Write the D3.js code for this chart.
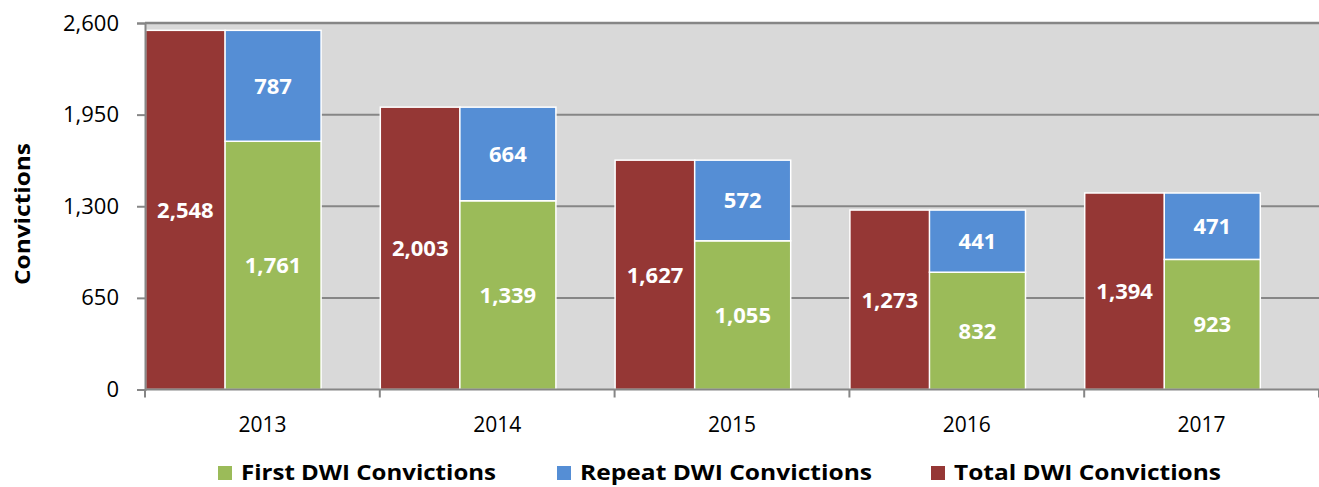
<!DOCTYPE html>
<html><head><meta charset="utf-8">
<script src="https://cdn.jsdelivr.net/npm/d3@7"></script>
<style>body{margin:0;background:#fff}svg{display:block}</style>
</head><body>
<svg id="c" width="1319" height="487"></svg>
<script>
const years = ["2013","2014","2015","2016","2017"];
const firstDWI = [1761,1339,1055,832,923];
const repeatDWI = [787,664,572,441,471];
const totalDWI = [2548,2003,1627,1273,1394];
const yTicks = [0,650,1300,1950,2600];
const seriesNames = ["First DWI Convictions","Repeat DWI Convictions","Total DWI Convictions"];
const colors = {first:"#9bbb59", repeat:"#558ed5", total:"#953735"};

const FONT = "'Open Sans', 'Liberation Sans', sans-serif";
const svg = d3.select("#c");
const L=145, R=1319, T=23, B=389.5;
const x = d3.scaleBand().domain(years).range([L,R]).padding(0);
const y = d3.scaleLinear().domain([0,2600]).range([B,T]);
const bw = x.bandwidth();

svg.append("rect").attr("x",L).attr("y",T).attr("width",R-L).attr("height",B-T).attr("fill","#d9d9d9");

// gridlines
svg.append("g").selectAll("line").data(yTicks.filter(d=>d>0)).join("line")
  .attr("x1",L).attr("x2",R).attr("y1",d=>y(d)).attr("y2",d=>y(d))
  .attr("stroke","#868686").attr("stroke-width",d=>d===2600?2.5:2);

// total bars
const g = svg.append("g");
g.selectAll("rect.t").data(years).join("rect")
  .attr("x",d=>x(d)+0.5).attr("width",bw*0.34)
  .attr("y",(d,i)=>y(totalDWI[i])).attr("height",(d,i)=>y(0)-y(totalDWI[i]))
  .attr("fill",colors.total).attr("stroke","#fff").attr("stroke-width",1.5);
// stacked: first
g.selectAll("rect.f").data(years).join("rect")
  .attr("x",d=>x(d)+bw*0.341).attr("width",bw*0.409)
  .attr("y",(d,i)=>y(firstDWI[i])).attr("height",(d,i)=>y(0)-y(firstDWI[i]))
  .attr("fill",colors.first).attr("stroke","#fff").attr("stroke-width",1.5);
// stacked: repeat
g.selectAll("rect.r").data(years).join("rect")
  .attr("x",d=>x(d)+bw*0.341).attr("width",bw*0.409)
  .attr("y",(d,i)=>y(firstDWI[i]+repeatDWI[i])).attr("height",(d,i)=>y(firstDWI[i])-y(firstDWI[i]+repeatDWI[i]))
  .attr("fill",colors.repeat).attr("stroke","#fff").attr("stroke-width",1.5);

const fmt = d3.format(",");
function lab(cx, cy, v){
  svg.append("text").attr("x",cx).attr("y",cy).attr("text-anchor","middle").attr("dy","0.36em")
    .attr("font-family",FONT).attr("font-weight","bold").attr("font-size",22).attr("fill","#fff").text(fmt(v));
}
years.forEach((yr,i)=>{
  lab(x(yr)+bw*0.17+0.5, (y(totalDWI[i])+y(0))/2, totalDWI[i]);
  const sx = x(yr)+bw*0.341+bw*0.2045;
  lab(sx, (y(firstDWI[i])+y(0))/2, firstDWI[i]);
  lab(sx, (y(firstDWI[i])+y(firstDWI[i]+repeatDWI[i]))/2, repeatDWI[i]);
});

// axes
const ya = svg.append("g").attr("transform",`translate(${L},0)`)
  .call(d3.axisLeft(y).tickValues(yTicks).tickFormat(fmt).tickSize(8).tickPadding(18));
ya.select(".domain").attr("stroke","#868686").attr("stroke-width",2);
ya.selectAll(".tick line").attr("stroke","#868686").attr("stroke-width",2);
ya.selectAll("text").attr("font-family",FONT).attr("font-size",22).attr("fill","#000");

const xa = svg.append("g").attr("transform",`translate(0,${B})`);
xa.append("line").attr("x1",L).attr("x2",R).attr("stroke","#868686").attr("stroke-width",2);
xa.selectAll("line.tk").data(d3.range(years.length+1)).join("line")
  .attr("x1",i=>L+i*bw).attr("x2",i=>L+i*bw).attr("y1",0).attr("y2",8)
  .attr("stroke","#868686").attr("stroke-width",2);
xa.selectAll("text").data(years).join("text")
  .attr("x",d=>x(d)+bw/2).attr("y",42).attr("text-anchor","middle")
  .attr("font-family",FONT).attr("font-size",21).attr("fill","#000").text(d=>d);

// y title
svg.append("text").attr("transform","translate(30,214) rotate(-90)").attr("text-anchor","middle")
  .attr("font-family",FONT).attr("font-weight","bold").attr("font-size",22).attr("fill","#000")
  .attr("textLength",142).attr("lengthAdjust","spacingAndGlyphs").text("Convictions");

// legend
const legX = [218,557,931];
const legW = [255,292,267];
const legC = [colors.first,colors.repeat,colors.total];
const lg = svg.append("g");
seriesNames.forEach((n,i)=>{
  lg.append("rect").attr("x",legX[i]).attr("y",466).attr("width",14).attr("height",14).attr("fill",legC[i]);
  lg.append("text").attr("x",legX[i]+23).attr("y",480).attr("font-family",FONT).attr("font-weight","bold")
    .attr("font-size",22).attr("fill","#000")
    .attr("textLength",legW[i]).attr("lengthAdjust","spacingAndGlyphs").text(n);
});
</script>
</body></html>
